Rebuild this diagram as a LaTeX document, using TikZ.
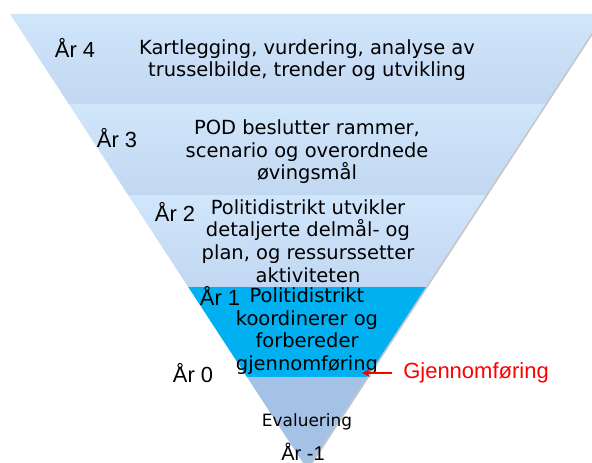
\documentclass[tikz,border=0pt]{standalone}
\usepackage{fontspec}
\setmainfont{DejaVu Sans}
\newfontfamily\arialfont{Liberation Sans}
\usetikzlibrary{arrows.meta}

\definecolor{bandtop}{RGB}{208,230,251}
\definecolor{bandbot}{RGB}{194,215,241}
\definecolor{bandact}{RGB}{0,176,240}
\definecolor{bandeval}{RGB}{164,194,230}
\definecolor{gjred}{RGB}{255,0,0}

\tikzset{
  band/.style={top color=bandtop, bottom color=bandbot},
  steptext/.style={align=center, inner sep=0pt, font=\fontsize{14.6}{16.9}\selectfont},
  yearlabel/.style={inner sep=0pt, font=\arialfont\fontsize{16.4}{18}\selectfont}
}

\begin{document}
\begin{tikzpicture}[x=0.75pt,y=-0.75pt]
    \useasboundingbox (0,0) rectangle (592,463);
    \clip (0,0) rectangle (592,463);
    % Funnel outline (corners and apex)
    \coordinate (tl) at (10,14);
    \coordinate (tr) at (604,14);
    \coordinate (apex) at (307,469);
    \fill [black!22] ([shift={(1.5,1)}]tl) -- ([shift={(1.5,1)}]tr) -- ([shift={(1.5,1)}]apex) -- cycle;
    \begin{scope}
      \clip (tl) -- (tr) -- (apex) -- cycle;
      \shade [band] (0,14) rectangle (610,105);
      \shade [band] (0,105) rectangle (610,196);
      \shade [band] (0,196) rectangle (610,287);
      \fill [bandact] (0,287) rectangle (610,377);
      \fill [bandeval] (0,377) rectangle (610,470);
    \end{scope}
    % Year labels
    \node [yearlabel] (yr4) at (75,48) {År 4};
    \node [yearlabel] (yr3) at (117,138) {År 3};
    \node [yearlabel] (yr2) at (175,212) {År 2};
    \node [yearlabel] (yr1) at (220,296) {År 1};
    \node [yearlabel] (yr0) at (193,373) {År 0};
    \node [yearlabel, font=\arialfont\fontsize{15}{17}\selectfont] (yrm1) at (303,452) {År -1};
    % Band texts
    \node [steptext] (kart) at (307,60) {Kartlegging, vurdering, analyse av\\trusselbilde, trender og utvikling};
    \node [steptext] (pod) at (307,152) {POD beslutter rammer,\\scenario og overordnede\\øvingsmål};
    \node [steptext] (delmaal) at (308,241) {Politidistrikt utvikler\\detaljerte delmål- og\\plan, og ressurssetter\\aktiviteten};
    \node [steptext] (koord) at (307,331) {Politidistrikt\\koordinerer og\\forbereder\\gjennomføring};
    \node [steptext, font=\fontsize{12.7}{15}\selectfont] (eval) at (307,422) {Evaluering};
    % Execution marker
    \node [anchor=west, inner sep=0pt, text=gjred, font=\arialfont\fontsize{16.5}{18}\selectfont] (gjennom) at (403,373) {Gjennomføring};
    \coordinate (gjtip) at (362,373);
    \draw [gjred, line width=1.5pt, -{Stealth[length=6pt,width=6pt]}] ([xshift=-8pt]gjennom.west) -- (gjtip);
  \end{tikzpicture}
\end{document}
